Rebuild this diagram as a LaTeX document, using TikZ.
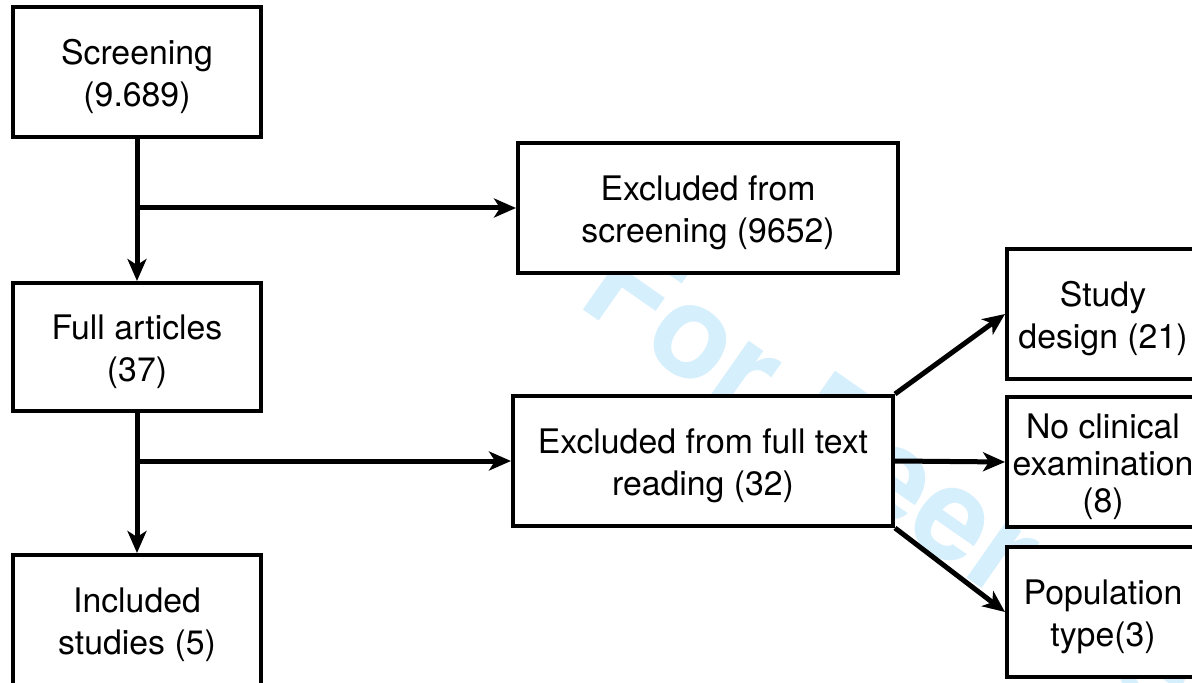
\documentclass[tikz,border=0pt]{standalone}
\usepackage{fontspec}
\setmainfont{TeX Gyre Heros}
\usetikzlibrary{arrows.meta}
\definecolor{markblue}{RGB}{214,239,252}
\newcommand{\lift}{\rule{0pt}{17.5pt}}

\begin{document}
\begin{tikzpicture}[x=0.5pt, y=-0.5pt,
    box/.style={draw, fill=white, line width=2pt, align=center, inner sep=0pt,
                font=\fontsize{16.9}{21}\selectfont},
    flow/.style={line width=2.5pt, -{Stealth[length=11pt, width=9.5pt, inset=3pt]}}]
    \useasboundingbox (0,0) rectangle (1192,683);

    % watermark behind the boxes
    \node[anchor=west, inner sep=0pt, rotate=-35, text=markblue,
          font=\fontsize{64.5}{70}\selectfont\bfseries] (mark) at (602,265) {For Peer Review};

    % left column
    \node[box, minimum width=124pt, minimum height=65pt] (screen) at (137,72) {\lift Screening\\(9.689)};
    \node[box, minimum width=124pt, minimum height=64pt] (full) at (137,347) {\lift Full articles\\(37)};
    \node[box, minimum width=124pt, minimum height=65pt] (incl) at (137,620) {\lift Included\\studies (5)};

    % exclusions
    \node[box, minimum width=190pt, minimum height=65pt] (exscr) at (708,208) {\lift Excluded from\\screening (9652)};
    \node[box, minimum width=190pt, minimum height=65pt] (exfull) at (703,461) {\lift Excluded from full text\\reading (32)};

    % reasons
    \node[box, minimum width=96pt, minimum height=65pt] (design) at (1103,314) {\lift Study\\design (21)};
    \node[box, minimum width=96pt, minimum height=65pt,
          font=\fontsize{16.9}{18.5}\selectfont] (noclin) at (1103,462) {\lift No clinical\\examination\\(8)};
    \node[box, minimum width=96pt, minimum height=65pt] (popul) at (1103,612) {\lift Population\\type(3)};

    \draw[flow] (screen) -- (full);
    \draw[flow] (screen.south |- exscr.west) -- (exscr.west);
    \draw[flow] (full) -- (incl);
    \draw[flow] (full.south |- exfull.west) -- (exfull.west);

    \draw[flow] (exfull.north east) -- (design.west);
    \draw[flow] (exfull.east) -- (noclin.west);
    \draw[flow] (exfull.south east) -- (popul.west);
\end{tikzpicture}
\end{document}
